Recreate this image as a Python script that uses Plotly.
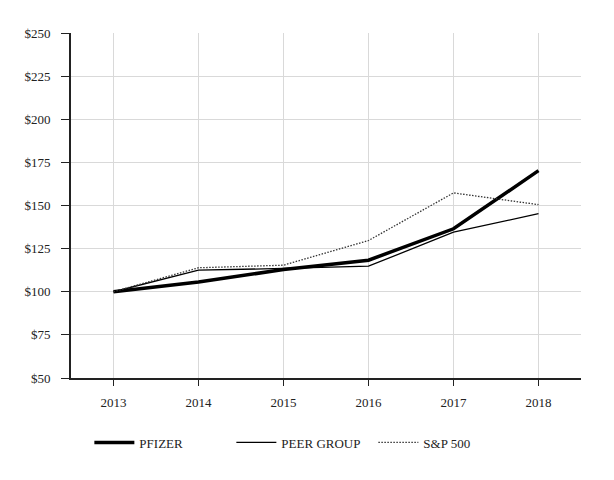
import plotly.graph_objects as go

years = [2013, 2014, 2015, 2016, 2017, 2018]
pfizer = [100, 105.6, 112.9, 118.3, 136.5, 170.2]
peer_group = [100, 112.5, 113.5, 114.8, 134.5, 145.3]
sp500 = [100, 113.9, 115.4, 129.7, 157.3, 150.5]
y_ticks = [50, 75, 100, 125, 150, 175, 200, 225, 250]
y_tick_labels = ["$" + str(v) for v in y_ticks]

FONT = "Liberation Serif, Times New Roman, serif"

fig = go.Figure()
fig.add_trace(go.Scatter(x=years, y=pfizer, mode="lines", name="PFIZER",
                         line=dict(color="black", width=3.5)))
fig.add_trace(go.Scatter(x=years, y=peer_group, mode="lines", name="PEER GROUP",
                         line=dict(color="black", width=1.3)))
fig.add_trace(go.Scatter(x=years, y=sp500, mode="lines", name="S&P 500",
                         line=dict(color="#333333", width=1.3, dash="1.5px,1.5px")))

fig.update_layout(
    width=614, height=480,
    margin=dict(l=63, r=41, t=25, b=110),
    paper_bgcolor="white", plot_bgcolor="white",
    font=dict(family=FONT, size=13, color="#222222"),
    showlegend=True,
    legend=dict(orientation="h", x=0.036, xanchor="left", y=-0.187, yanchor="middle",
                itemwidth=40, entrywidth=87, entrywidthmode="pixels",
                font=dict(family=FONT, size=13, color="#222222"),
                traceorder="normal"),
)
fig.update_xaxes(range=[2012.5, 2018.5], tickvals=years, ticktext=[str(y) for y in years],
                 showgrid=True, gridcolor="#d9d9d9", gridwidth=1,
                 showline=True, linecolor="#222222", linewidth=2,
                 ticks="outside", ticklen=6, tickcolor="#222222", tickwidth=1,
                 zeroline=False, ticklabelstandoff=5)
fig.update_yaxes(range=[50, 250], tickvals=y_ticks, ticktext=y_tick_labels,
                 showgrid=True, gridcolor="#d9d9d9", gridwidth=1,
                 showline=True, linecolor="#222222", linewidth=2,
                 ticks="outside", ticklen=8, tickcolor="#222222", tickwidth=1,
                 zeroline=False, ticklabelstandoff=8)

fig.write_html("out.html")
